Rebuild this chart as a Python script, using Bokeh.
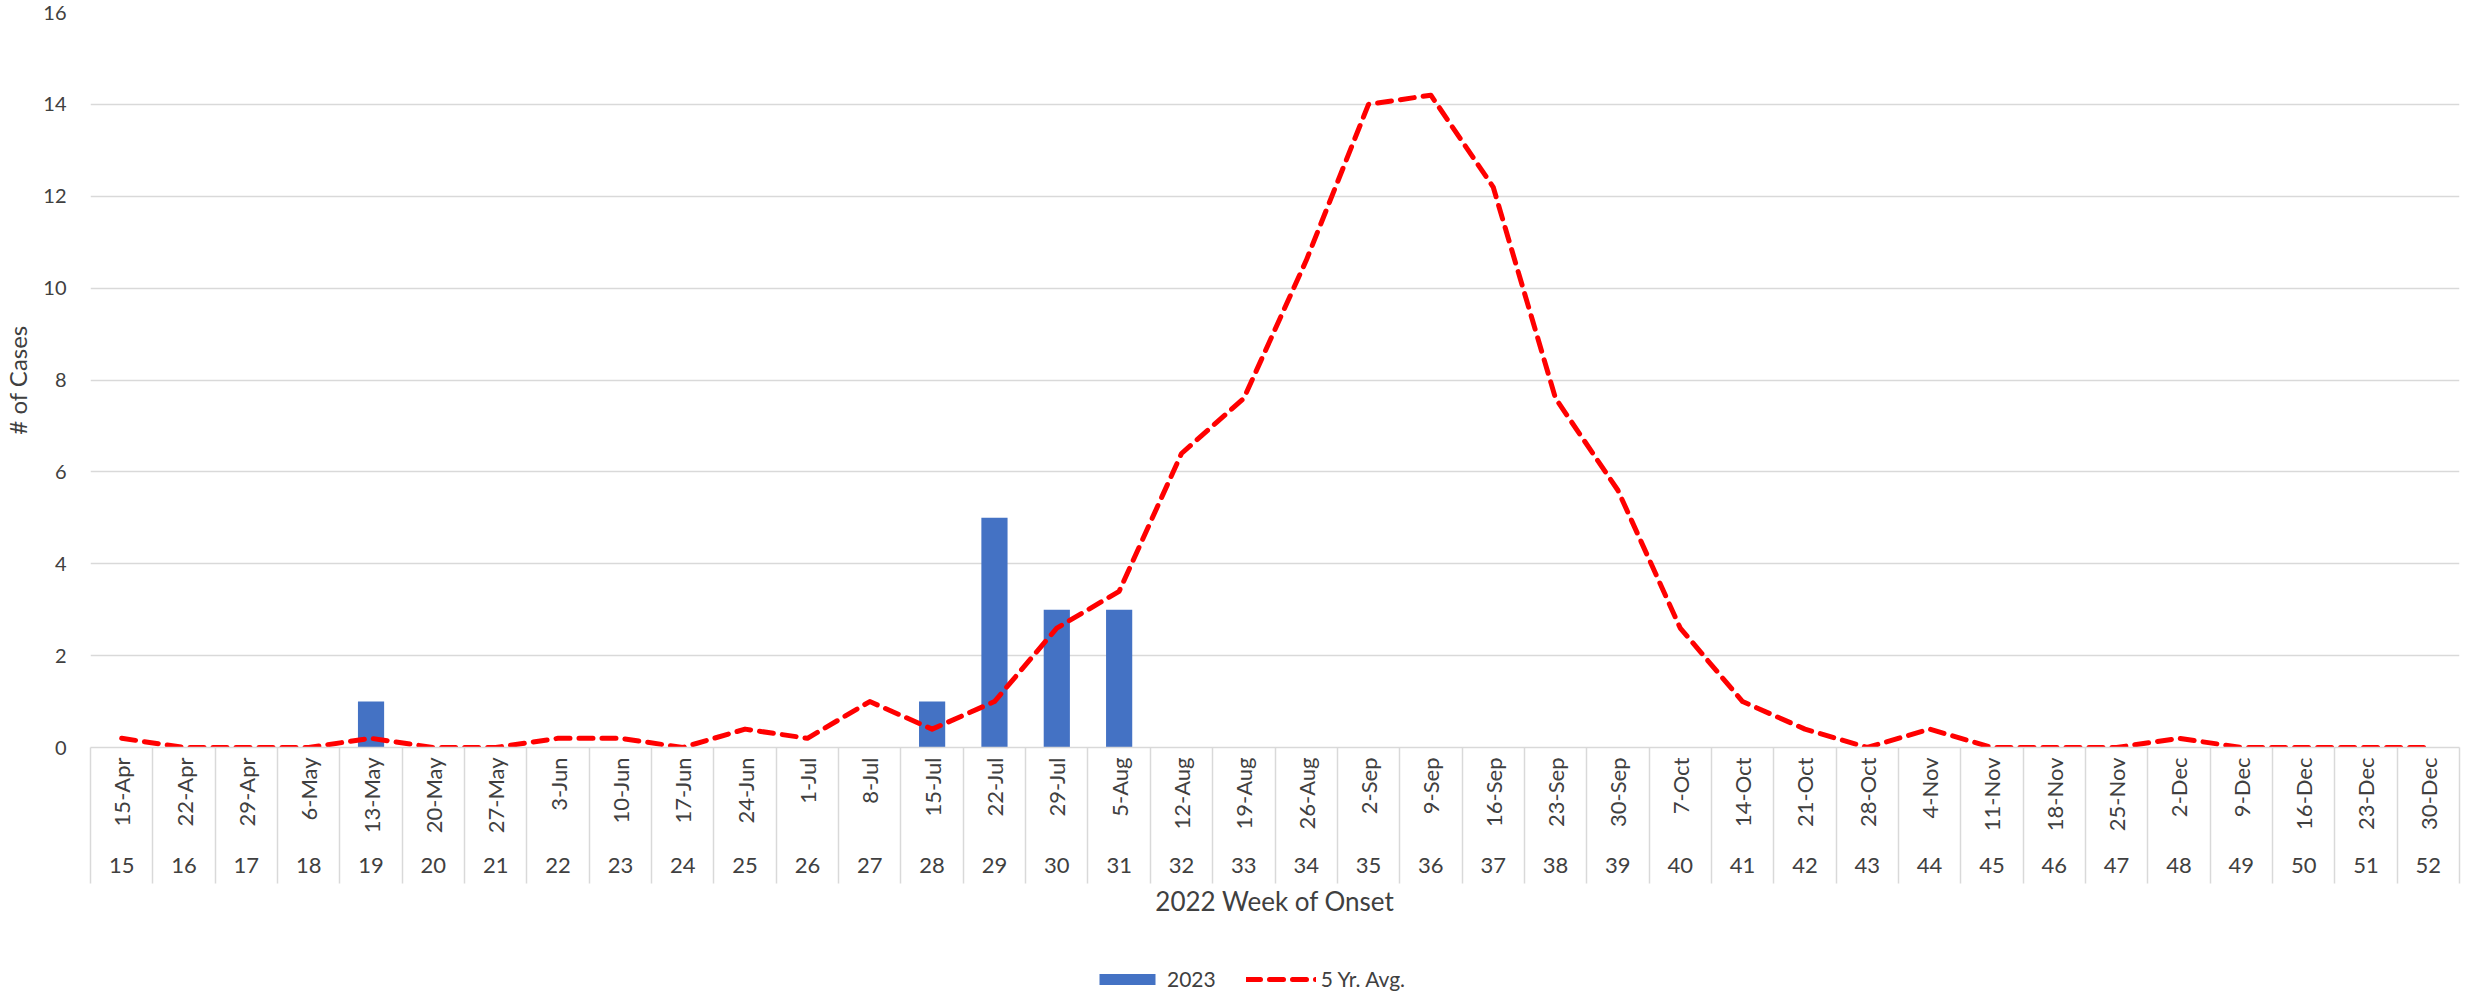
import math
import numpy as np
from bokeh.plotting import figure
from bokeh.layouts import column
from bokeh.models import Range1d, FixedTicker, LinearAxis, Legend, LegendItem
from bokeh.embed import file_html
from bokeh.resources import INLINE

dates = ["15-Apr", "22-Apr", "29-Apr", "6-May", "13-May", "20-May", "27-May",
         "3-Jun", "10-Jun", "17-Jun", "24-Jun", "1-Jul", "8-Jul", "15-Jul",
         "22-Jul", "29-Jul", "5-Aug", "12-Aug", "19-Aug", "26-Aug", "2-Sep",
         "9-Sep", "16-Sep", "23-Sep", "30-Sep", "7-Oct", "14-Oct", "21-Oct",
         "28-Oct", "4-Nov", "11-Nov", "18-Nov", "25-Nov", "2-Dec", "9-Dec",
         "16-Dec", "23-Dec", "30-Dec"]
weeks = ["15", "16", "17", "18", "19", "20", "21", "22", "23", "24", "25", "26",
         "27", "28", "29", "30", "31", "32", "33", "34", "35", "36", "37", "38",
         "39", "40", "41", "42", "43", "44", "45", "46", "47", "48", "49", "50",
         "51", "52"]
cases_2023 = [0, 0, 0, 0, 1, 0, 0, 0, 0, 0, 0, 0, 0, 1, 5, 3, 3, 0, 0, 0, 0, 0,
              0, 0, 0, 0, 0, 0, 0, 0, 0, 0, 0, 0, 0, 0, 0, 0]
avg_5yr = [0.2, 0, 0, 0, 0.2, 0, 0, 0.2, 0.2, 0, 0.4, 0.2, 1.0, 0.4, 1.0, 2.6,
           3.4, 6.4, 7.6, 10.6, 14.0, 14.2, 12.2, 7.6, 5.6, 2.6, 1.0, 0.4, 0,
           0.4, 0, 0, 0, 0.2, 0, 0, 0, 0]
y_ticks = [0, 2, 4, 6, 8, 10, 12, 14, 16]
series_names = ["2023", "5 Yr. Avg."]

FONT = "Lato"
TXT = "#404040"
GRID = "#D9D9D9"
BAR_COLOR = "#4472C4"
LINE_COLOR = "#FF0000"

n = len(dates)
centers = [i + 0.5 for i in range(n)]
bounds = [float(i) for i in range(n + 1)]

p = figure(frame_width=2369, frame_height=735, output_backend="svg",
           toolbar_location=None,
           x_range=Range1d(0, n), y_range=Range1d(0, 16),
           x_axis_location=None)
p.min_border_left = 80
p.min_border_top = 12
p.min_border_right = 4
p.min_border_bottom = 0
p.outline_line_color = None
p.background_fill_color = "white"

line_style = dict(line_color=LINE_COLOR, line_width=5, line_dash="14 9",
                  line_cap="round", line_join="round")

bars = p.vbar(x=centers, top=cases_2023, width=0.42, fill_color=BAR_COLOR,
              line_color=None)
line = p.line(x=centers, y=avg_5yr, **line_style)

# y axis
yax = p.yaxis[0]
yax.ticker = FixedTicker(ticks=y_ticks)
yax.axis_line_color = None
yax.major_tick_line_color = None
yax.minor_tick_line_color = None
yax.major_label_text_font = FONT
yax.major_label_text_font_size = "20px"
yax.major_label_text_color = TXT
yax.major_label_standoff = 18
yax.axis_label = "# of Cases"
yax.axis_label_text_font = FONT
yax.axis_label_text_font_size = "24px"
yax.axis_label_text_font_style = "normal"
yax.axis_label_text_color = TXT
yax.axis_label_standoff = 8

p.ygrid.ticker = FixedTicker(ticks=y_ticks)
p.ygrid.grid_line_color = GRID
p.ygrid.grid_line_width = 1.5
p.xgrid.grid_line_color = None

# inner x axis: dates (minor ticks act as the category separators)
ax1 = LinearAxis(ticker=FixedTicker(ticks=centers, minor_ticks=bounds),
                 major_label_overrides={c: d for c, d in zip(centers, dates)})
ax1.major_label_orientation = math.pi / 2
ax1.major_label_text_font = FONT
ax1.major_label_text_font_size = "22px"
ax1.major_label_text_color = TXT
ax1.major_label_standoff = -126
ax1.major_tick_in = 0
ax1.major_tick_out = 0
ax1.major_tick_line_color = None
ax1.minor_tick_in = 0
ax1.minor_tick_out = 136
ax1.minor_tick_line_color = GRID
ax1.minor_tick_line_width = 1.5
ax1.axis_line_color = GRID
ax1.axis_line_width = 1.5

# outer x axis: week numbers
ax2 = LinearAxis(ticker=FixedTicker(ticks=centers),
                 major_label_overrides={c: w for c, w in zip(centers, weeks)})
ax2.major_label_text_font = FONT
ax2.major_label_text_font_size = "22px"
ax2.major_label_text_color = TXT
ax2.major_label_standoff = 21
ax2.major_tick_in = 0
ax2.major_tick_out = 0
ax2.major_tick_line_color = None
ax2.minor_tick_line_color = None
ax2.axis_line_color = None
ax2.axis_label = "2022 Week of Onset"
ax2.axis_label_text_font = FONT
ax2.axis_label_text_font_size = "26px"
ax2.axis_label_text_font_style = "normal"
ax2.axis_label_text_color = TXT
ax2.axis_label_standoff = 9

p.add_layout(ax1, "below")
p.add_layout(ax2, "below")

# legend strip: a small figure holding the same series (kept out of its
# visible range) so that the legend swatches are drawn with their styles
lf = figure(width=2453, height=72, output_backend="svg", toolbar_location=None,
            x_range=Range1d(0, n), y_range=Range1d(100, 101),
            x_axis_location=None, y_axis_location=None)
lf.min_border_left = 0
lf.min_border_right = 0
lf.min_border_top = 0
lf.min_border_bottom = 0
lf.outline_line_color = None
lf.grid.visible = False
lf_bar = lf.vbar(x=centers, top=cases_2023, width=0.42, fill_color=BAR_COLOR,
                 line_color=None)
lf_line = lf.line(x=centers, y=avg_5yr, **line_style)

legend = Legend(items=[LegendItem(label=series_names[0], renderers=[lf_bar]),
                       LegendItem(label=series_names[1], renderers=[lf_line])],
                orientation="horizontal", location=(1002, 0),
                glyph_width=70, glyph_height=14, spacing=30,
                label_text_font=FONT, label_text_font_size="21px",
                label_text_color=TXT, border_line_color=None,
                background_fill_alpha=0, padding=0, margin=0)
lf.add_layout(legend, "center")

layout = column(p, lf, spacing=0)

open("out.html", "w").write(file_html(layout, INLINE))
